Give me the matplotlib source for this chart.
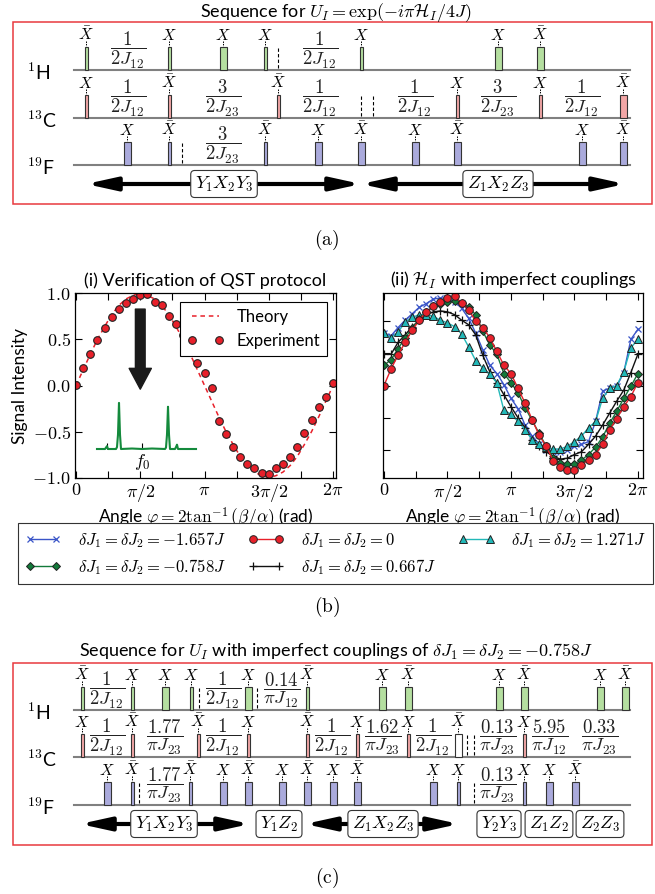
import numpy as np
import matplotlib
matplotlib.use('Agg')
import matplotlib.pyplot as plt
from matplotlib.patches import Rectangle

plt.rcParams['font.family'] = ['Lato', 'DejaVu Sans']
plt.rcParams['mathtext.fontset'] = 'cm'

# ---------------- data ----------------
# pulse sequences: (time position, label, rotation angle)
a_H = [(86, r'\bar{X}', 90), (169, 'X', 90), (223, 'X', 180), (265, 'X', 90),
       (361, 'X', 90), (498, 'X', 180), (540, r'\bar{X}', 180)]
a_C = [(86, 'X', 90), (169, r'\bar{X}', 90), (278, r'\bar{X}', 90), (457, 'X', 90),
       (540, 'X', 90), (623, r'\bar{X}', 180)]
a_F = [(127, 'X', 180), (169, r'\bar{X}', 90), (265, r'\bar{X}', 90), (318, 'X', 180),
       (361, r'\bar{X}', 180), (415, 'X', 180), (457, r'\bar{X}', 180), (582, 'X', 180),
       (623, r'\bar{X}', 180)]
# delays: (centre, numerator, denominator)
a_H_delay = [(128, '1', '2J_{12}'), (320, '1', '2J_{12}')]
a_C_delay = [(128, '1', '2J_{12}'), (223, '3', '2J_{23}'), (320, '1', '2J_{12}'),
             (415, '1', '2J_{12}'), (498, '3', '2J_{23}'), (582, '1', '2J_{12}')]
a_F_delay = [(223, '3', '2J_{23}')]
a_marks = {'H': [278], 'C': [361, 373], 'F': [182]}
a_ops = [(86, 361, 224, 'Y_1X_2Y_3'), (361, 625, 498, 'Z_1X_2Z_3')]

c_H = [(82, r'\bar{X}', 90), (132, 'X', 90), (165, 'X', 180), (191, 'X', 90),
       (248, 'X', 180), (307, r'\bar{X}', 90), (382, 'X', 180), (408, r'\bar{X}', 180),
       (499, 'X', 180), (524, r'\bar{X}', 180), (600, 'X', 180), (625, r'\bar{X}', 180)]
c_C = [(82, 'X', 90), (132, r'\bar{X}', 90), (198, r'\bar{X}', 90), (248, 'X', 90),
       (307, r'\bar{X}', 90), (357, 'X', 90), (408, 'X', 90), (458, r'\bar{X}', 180),
       (524, 'X', 90)]
c_F = [(107, 'X', 180), (132, r'\bar{X}', 90), (190, r'\bar{X}', 90), (223, 'X', 180),
       (248, r'\bar{X}', 180), (282, 'X', 180), (307, r'\bar{X}', 180), (333, 'X', 180),
       (357, r'\bar{X}', 180), (433, 'X', 180), (458, 'X', 90), (524, 'X', 90),
       (549, 'X', 180), (575, r'\bar{X}', 180)]
c_H_delay = [(107, '1', '2J_{12}'), (223, '1', '2J_{12}'), (282, '0.14', r'\pi J_{12}')]
c_C_delay = [(107, '1', '2J_{12}'), (165, '1.77', r'\pi J_{23}'), (223, '1', '2J_{12}'),
             (332, '1', '2J_{12}'), (383, '1.62', r'\pi J_{23}'), (433, '1', '2J_{12}'),
             (498, '0.13', r'\pi J_{23}'), (550, '5.95', r'\pi J_{12}'),
             (600, '0.33', r'\pi J_{23}')]
c_F_delay = [(165, '1.77', r'\pi J_{23}'), (498, '0.13', r'\pi J_{23}')]
c_marks = {'H': [199, 257], 'C': [467, 474], 'F': [139, 474]}
c_hollow = [458]
c_ops = [(80, 250, 164, 'Y_1X_2Y_3'), (305, 459, 383, 'Z_1X_2Z_3')]
c_boxes = [(279, 'Y_1Z_2'), (499, 'Y_2Y_3'), (549, 'Z_1Z_2'), (600, 'Z_2Z_3')]

# (b) signal intensities, angles 0..360 deg in 10 deg steps
angles_deg = np.arange(0, 361, 10)
theory = [0.00, 0.17, 0.34, 0.50, 0.64, 0.77, 0.87, 0.94, 0.98, 1.00, 0.98, 0.94, 0.87,
          0.77, 0.64, 0.50, 0.34, 0.17, 0.00, -0.17, -0.34, -0.50, -0.64, -0.77, -0.87,
          -0.94, -0.98, -1.00, -0.98, -0.94, -0.87, -0.77, -0.64, -0.50, -0.34, -0.17, 0.00]
experiment = [0.01, 0.185, 0.34, 0.49, 0.63, 0.74, 0.83, 0.90, 0.94, 0.98, 0.99, 0.91, 0.88,
              0.75, 0.67, 0.55, 0.42, 0.24, 0.14, -0.03, -0.39, -0.53, -0.67, -0.78, -0.85,
              -0.90, -0.95, -0.96, -0.90, -0.85, -0.78, -0.67, -0.52, -0.38, -0.23, -0.13, 0.03]
sig_m1657 = [0.57, 0.54, 0.63, 0.71, 0.78, 0.85, 0.89, 0.94, 0.95, 0.95, 0.91, 0.84, 0.73,
             0.57, 0.39, 0.22, 0.13, 0.01, -0.14, -0.25, -0.43, -0.55, -0.64, -0.70, -0.72,
             -0.72, -0.70, -0.66, -0.64, -0.61, -0.39, -0.06, -0.03, -0.01, 0.14, 0.50, 0.61]
sig_m0758 = [0.22, 0.28, 0.40, 0.52, 0.62, 0.72, 0.80, 0.86, 0.89, 0.91, 0.92, 0.90, 0.85,
             0.77, 0.59, 0.44, 0.34, 0.13, 0.03, -0.08, -0.24, -0.38, -0.52, -0.66, -0.79,
             -0.84, -0.85, -0.85, -0.81, -0.75, -0.67, -0.56, -0.41, -0.28, -0.14, -0.01, 0.13]
sig_0 = [0.00, 0.18, 0.33, 0.47, 0.60, 0.71, 0.80, 0.86, 0.91, 0.95, 0.97, 0.90, 0.82,
         0.70, 0.63, 0.52, 0.37, 0.22, 0.13, -0.03, -0.19, -0.37, -0.54, -0.66, -0.82,
         -0.89, -0.92, -0.92, -0.86, -0.81, -0.75, -0.64, -0.48, -0.36, -0.23, -0.12, 0.03]
sig_p0667 = [0.34, 0.34, 0.47, 0.55, 0.64, 0.71, 0.77, 0.80, 0.81, 0.80, 0.77, 0.71, 0.66,
             0.55, 0.33, 0.15, 0.03, -0.10, -0.23, -0.35, -0.46, -0.59, -0.66, -0.72, -0.77,
             -0.80, -0.79, -0.75, -0.72, -0.64, -0.55, -0.43, -0.30, -0.17, -0.05, 0.14, 0.34]
sig_p1271 = [0.57, 0.52, 0.58, 0.69, 0.74, 0.77, 0.77, 0.75, 0.71, 0.68, 0.64, 0.56, 0.42,
             0.27, 0.19, 0.12, 0.03, -0.27, -0.31, -0.39, -0.48, -0.59, -0.64, -0.67, -0.69,
             -0.69, -0.66, -0.61, -0.55, -0.46, -0.39, -0.14, -0.03, 0.00, 0.15, 0.41, 0.50]
# inset spectrum (frequency offset from f0, amplitude)
spec_freq = [-45, -37, -36, -35, -34, -26, -25, -24, -23, -22, -21, -10, 0, 10, 23, 24,
             25, 26, 27, 28, 33, 34, 35, 36, 54]
spec_amp = [0.0, 0.0, 0.03, 0.06, 0.0, 0.0, 0.04, 0.3, 0.96, 0.3, 0.0, 0.01, 0.0, 0.01,
            0.0, 0.03, 0.3, 0.88, 0.3, 0.0, 0.0, 0.04, 0.09, 0.0, 0.0]

# ---------------- figure ----------------
fig = plt.figure(figsize=(6.55, 8.94), dpi=100)
ov = fig.add_axes([0, 0, 1, 1])
ov.set_xlim(0, 655)
ov.set_ylim(894, 0)
ov.axis('off')

colH, colC, colF = '#b5dfa0', '#f2a6a6', '#aaaadc'


def draw_row(base, pulses, delays, marks, color, hollow=()):
    ov.plot([74, 630], [base, base], color='#808080', lw=1.5, zorder=1)
    for t, lab, ang in pulses:
        w = 3 if ang == 90 else 7
        fc = 'white' if t in hollow else color
        ov.add_patch(Rectangle((t - w / 2, base - 23), w, 23, fc=fc, ec='#333333',
                               lw=0.8, zorder=3))
        ov.plot([t, t], [base - 29, base - 24], color='k', lw=0.7, ls=(0, (1.5, 1)))
        ov.text(t, base - 30, f'${lab}$', ha='center', va='baseline', fontsize=11.5)
    for t, num, den in delays:
        ov.text(t, base - 20, rf'$\dfrac{{{num}}}{{{den}}}$', ha='center', va='center',
                fontsize=13.5, color='#222222')
    for t in marks:
        ov.plot([t, t], [base - 22, base], color='k', lw=0.8, ls=(0, (3, 2)))


def draw_ops(y, ops, boxes=()):
    boxes = list(boxes)
    for x0, x1, xc, lab in ops:
        ov.annotate('', xy=(x1, y), xytext=(x0, y),
                    arrowprops=dict(arrowstyle='<|-|>,head_length=1.0,head_width=0.22',
                                    mutation_scale=18, lw=3.0, color='k',
                                    shrinkA=0, shrinkB=0))
        boxes.append((xc, lab))
    for xc, lab in boxes:
        ov.text(xc, y, f'${lab}$', ha='center', va='center', fontsize=13, zorder=6,
                bbox=dict(boxstyle='round,pad=0.22', fc='white', ec='#333333', lw=0.8))


def nuc_labels(bases):
    for b, lab in zip(bases, ['$^{1}$H', '$^{13}$C', '$^{19}$F']):
        ov.text(27, b + 2, lab, ha='left', va='center', fontsize=14)


# panel (a)
ov.text(336, 12, r'Sequence for $U_I = \exp(-i\pi\mathcal{H}_I/4J)$', ha='center',
        va='center', fontsize=13)
ov.add_patch(Rectangle((13, 22), 639, 182, fill=False, ec='#e8393e', lw=1.1))
draw_row(70, a_H, a_H_delay, a_marks['H'], colH)
draw_row(118, a_C, a_C_delay, a_marks['C'], colC)
draw_row(165, a_F, a_F_delay, a_marks['F'], colF)
nuc_labels([70, 118, 165])
draw_ops(184, a_ops)
ov.text(327, 240, r'$(\mathrm{a})$', ha='center', va='center', fontsize=14)

# panel (c)
ov.text(336, 652, r'Sequence for $U_I$ with imperfect couplings of '
        r'$\delta J_1 = \delta J_2 = -0.758J$', ha='center', va='center', fontsize=13)
ov.add_patch(Rectangle((13, 663), 639, 182, fill=False, ec='#e8393e', lw=1.1))
draw_row(710, c_H, c_H_delay, c_marks['H'], colH)
draw_row(757, c_C, c_C_delay, c_marks['C'], colC, hollow=c_hollow)
draw_row(805, c_F, c_F_delay, c_marks['F'], colF)
nuc_labels([710, 757, 805])
draw_ops(824, c_ops, c_boxes)
ov.text(327, 878, r'$(\mathrm{c})$', ha='center', va='center', fontsize=14)

# panel (b)
phi = np.deg2rad(angles_deg)
axL = fig.add_axes([75 / 655, (894 - 478) / 894, 261 / 655, 185 / 894])
axR = fig.add_axes([383 / 655, (894 - 478) / 894, 260 / 655, 185 / 894])

axL.plot(phi, theory, ls=(0, (3, 2.5)), color='#e8202a', lw=1.1, label='Theory')
axL.plot(phi, experiment, 'o', mfc='#e8202a', mec='#222222', mew=0.8, ms=5.5,
         label='Experiment')
axL.annotate('', xy=(np.pi / 2, -0.04), xytext=(np.pi / 2, 0.83),
             arrowprops=dict(facecolor='#1a1a1a', edgecolor='#1a1a1a', width=7,
                             headwidth=16, headlength=15, shrink=0))
leg = axL.legend(loc='upper right', bbox_to_anchor=(0.966, 0.951), borderaxespad=0,
                 numpoints=2, fancybox=False, edgecolor='k', framealpha=1,
                 fontsize=12, handlelength=2.2)
leg.get_frame().set_linewidth(0.8)

series = [
    (sig_m1657, dict(color='#3a55c8', marker='x', ms=5, mew=0.9),
     r'$\delta J_1 = \delta J_2 = -1.657J$'),
    (sig_p0667, dict(color='#111111', marker='+', ms=6, mew=0.9),
     r'$\delta J_1 = \delta J_2 = 0.667J$'),
    (sig_p1271, dict(color='#22b8b8', marker='^', ms=5.5, mfc='#22b8b8', mec='#222222',
                     mew=0.7), r'$\delta J_1 = \delta J_2 = 1.271J$'),
    (sig_m0758, dict(color='#137a3a', marker='D', ms=4.5, mfc='#137a3a', mec='#222222',
                     mew=0.7), r'$\delta J_1 = \delta J_2 = -0.758J$'),
    (sig_0, dict(color='#e8202a', marker='o', ms=5.5, mfc='#e8202a', mec='#222222',
                 mew=0.7), r'$\delta J_1 = \delta J_2 = 0$'),
]
handles = {}
for vals, kw, lab in series:
    line, = axR.plot(phi, vals, lw=1.0, label=lab, **kw)
    handles[lab] = line

xt = np.arange(9) * np.pi / 4
xtl = ['$0$', '', r'$\pi/2$', '', r'$\pi$', '', r'$3\pi/2$', '', r'$2\pi$']
for ax, title in [(axL, '(i) Verification of QST protocol'),
                  (axR, r'(ii) $\mathcal{H}_I$ with imperfect couplings')]:
    ax.set_xticks(xt)
    ax.set_xticklabels(xtl)
    ax.tick_params(direction='in', top=True, right=True, length=5, width=0.8,
                   labelsize=13, pad=3)
    ax.set_title(title, fontsize=13, pad=5)
    ax.set_xlabel(r'Angle $\varphi = 2\tan^{-1}(\beta/\alpha)$ (rad)', fontsize=12.5,
                  labelpad=1)
    for s in ax.spines.values():
        s.set_linewidth(0.9)

axL.set_xlim(-0.025, 6.356)
axL.set_ylim(-1.005, 1.005)
axL.set_yticks([-1.0, -0.5, 0.0, 0.5, 1.0])
axL.set_yticklabels(['$-1.0$', '$-0.5$', '$0.0$', '$0.5$', '$1.0$'])
axL.set_ylabel('Signal Intensity', fontsize=12.5, labelpad=3)

axR.set_xlim(-0.025, 6.41)
axR.set_ylim(-1.005, 1.005)
axR.set_yticks([-0.7, -0.35, 0.0, 0.35, 0.7])
axR.set_yticklabels([])

# inset spectrum
axI = fig.add_axes([97 / 655, (894 - 449) / 894, 99 / 655, 48 / 894])
axI.plot(spec_freq, spec_amp, color='#148a3c', lw=1.5, clip_on=False)
axI.set_xlim(-45, 54)
axI.set_ylim(0, 1.0)
axI.set_facecolor('none')
for s in axI.spines.values():
    s.set_visible(False)
axI.set_yticks([])
axI.set_xticks([-35, 0])
axI.set_xticklabels(['', '$f_0$'])
axI.tick_params(direction='in', length=4, width=0.8, labelsize=13, pad=2)

# shared legend
order = [r'$\delta J_1 = \delta J_2 = -1.657J$', r'$\delta J_1 = \delta J_2 = -0.758J$',
         r'$\delta J_1 = \delta J_2 = 0$', r'$\delta J_1 = \delta J_2 = 0.667J$',
         r'$\delta J_1 = \delta J_2 = 1.271J$']
fleg = fig.legend([handles[k] for k in order], order, loc='upper left',
                  bbox_to_anchor=(18 / 655, (894 - 579) / 894, 635 / 655, 56 / 894),
                  mode='expand', ncol=3, fancybox=False, edgecolor='#333333',
                  framealpha=1, fontsize=12, handlelength=2.2, numpoints=2,
                  borderaxespad=0, columnspacing=1.0, handletextpad=1.0,
                  labelspacing=0.45, borderpad=0.4)
fleg.get_frame().set_linewidth(0.8)

ov.text(327, 607, r'$(\mathrm{b})$', ha='center', va='center', fontsize=14)

fig.savefig('out.png', dpi=100)
